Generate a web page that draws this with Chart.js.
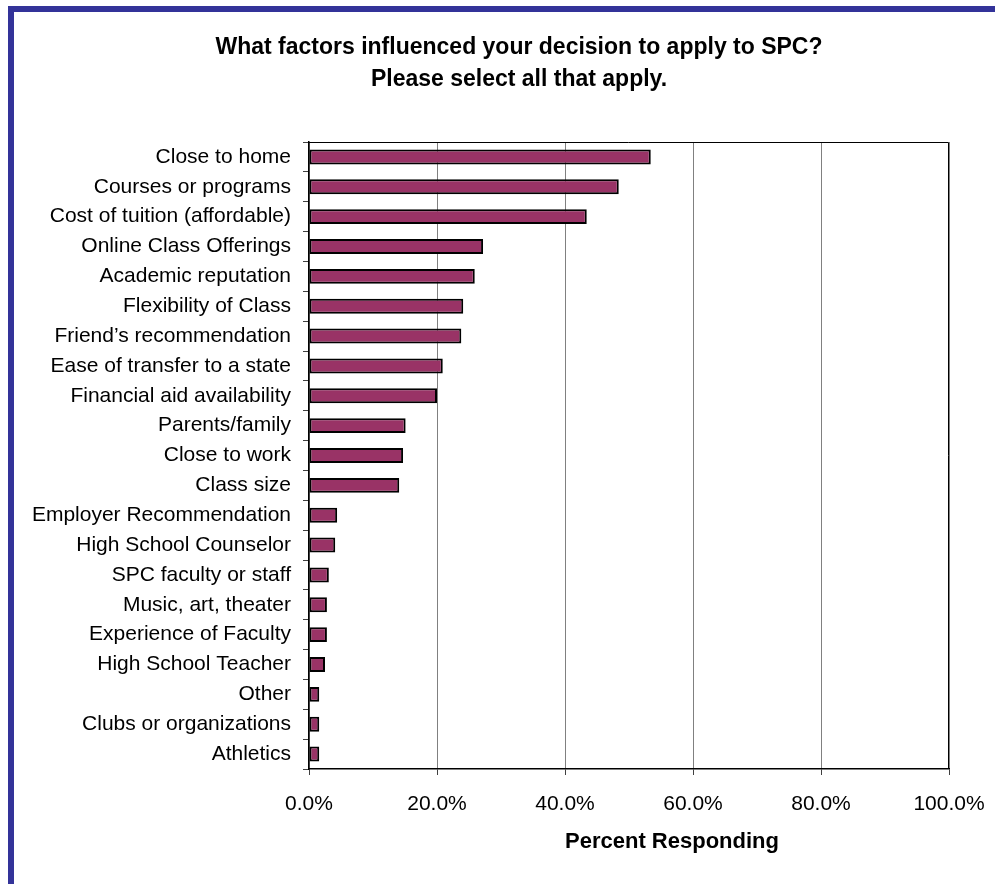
<!DOCTYPE html>
<html>
<head>
<meta charset="utf-8">
<script src="https://cdn.jsdelivr.net/npm/chart.js"></script>
<style>
  html, body { margin: 0; padding: 0; background: #fff; overflow: hidden; }
  #wrap { position: relative; width: 995px; height: 884px; }
  #myChart { position: absolute; left: 0; top: 0; }
  /* blue frame round the chart, runs off the right and bottom */
  #frame {
    position: absolute; left: 8px; top: 6px; width: 1100px; height: 1000px;
    border-left: 6px solid #333399; border-top: 6px solid #333399;
    pointer-events: none;
  }
</style>
</head>
<body>
<div id="wrap">
  <canvas id="myChart" width="995" height="884"></canvas>
  <div id="frame"></div>
</div>
<script>
const factors = [
  'Close to home', 'Courses or programs', 'Cost of tuition (affordable)',
  'Online Class Offerings', 'Academic reputation', 'Flexibility of Class',
  'Friend\u2019s recommendation', 'Ease of transfer to a state',
  'Financial aid availability', 'Parents/family', 'Close to work', 'Class size',
  'Employer Recommendation', 'High School Counselor', 'SPC faculty or staff',
  'Music, art, theater', 'Experience of Faculty', 'High School Teacher',
  'Other', 'Clubs or organizations', 'Athletics'
];
const percentResponding = [
  53.4, 48.4, 43.4, 27.2, 25.9, 24.1, 23.8, 20.9, 20.0, 15.1, 14.7, 14.1,
  4.4, 4.1, 3.1, 2.8, 2.8, 2.5, 1.6, 1.6, 1.6
];
const xTicks = [0, 20, 40, 60, 80, 100];
const titleLines = ['What factors influenced your decision to apply to SPC?', 'Please select all that apply.'];

const FONT = "'Liberation Sans', Arial, sans-serif";

// titles (placed off-centre like the original sheet) and the box round the plot
const extras = {
  id: 'extras',
  afterDraw(chart) {
    const ctx = chart.ctx;
    const a = chart.chartArea;
    ctx.save();
    ctx.strokeStyle = '#000';
    ctx.lineWidth = 1;
    ctx.beginPath();
    ctx.moveTo(a.left, a.top + 0.5);
    ctx.lineTo(a.right - 0.5, a.top + 0.5);
    ctx.lineTo(a.right - 0.5, a.bottom);
    ctx.stroke();

    ctx.fillStyle = '#000';
    ctx.textAlign = 'center';
    ctx.textBaseline = 'middle';
    ctx.font = 'bold 23px ' + FONT;
    titleLines.forEach((t, i) => ctx.fillText(t, 519, 48 + i * 32));

    ctx.font = 'bold 22px ' + FONT;
    ctx.fillText('Percent Responding', (a.left + a.right) / 2 + 43, 842);
    ctx.restore();
  }
};

function go() {
  const ctx = document.getElementById('myChart');
  new Chart(ctx, {
    type: 'bar',
    data: {
      labels: factors,
      datasets: [{
        data: percentResponding,
        backgroundColor: '#993366',
        borderColor: '#000',
        borderWidth: 2,
        borderSkipped: false,
        barPercentage: 0.5,
        categoryPercentage: 1
      }]
    },
    options: {
      indexAxis: 'y',
      responsive: false,
      animation: false,
      events: [],
      layout: { padding: { left: 20, right: 46, top: 142, bottom: 0 } },
      plugins: {
        legend: { display: false },
        tooltip: { enabled: false },
        title: { display: false }
      },
      scales: {
        x: {
          min: 0,
          max: 100,
          afterBuildTicks(scale) {
            scale.ticks = xTicks.map(v => ({ value: v }));
          },
          afterFit(scale) {
            scale.height = 115;
            // "100.0%" may hang past the plot; the right padding covers it
            scale.paddingLeft = 0;
            scale.paddingRight = 0;
          },
          ticks: {
            color: '#000',
            font: { family: FONT, size: 21 },
            padding: 17,
            maxRotation: 0,
            callback: v => v.toFixed(1) + '%'
          },
          grid: { color: '#808080', lineWidth: 1, tickLength: 6, tickColor: '#404040' },
          border: { color: '#000', width: 1.5 }
        },
        y: {
          afterFit(scale) { scale.width = 309 - 20; },
          ticks: {
            color: '#000',
            font: { family: FONT, size: 21 },
            padding: 12,
            autoSkip: false
          },
          grid: { drawOnChartArea: false, tickLength: 6, color: '#404040', offset: true },
          border: { color: '#000', width: 1.5 }
        }
      }
    },
    plugins: [extras]
  });
}
go();
</script>
</body>
</html>
